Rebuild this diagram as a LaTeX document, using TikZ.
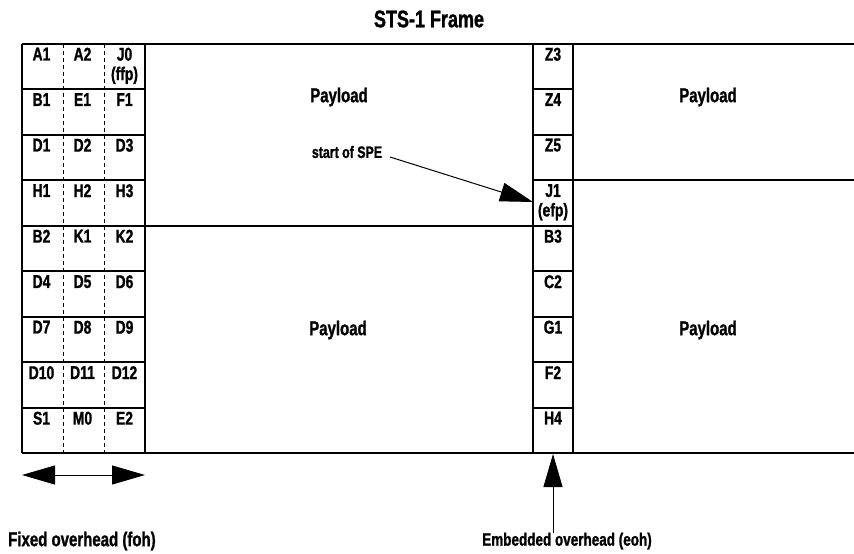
\documentclass[tikz,border=0pt]{standalone}
\usepackage{fontspec}
\newfontfamily\cf{Liberation Sans}[FakeStretch=0.75, FakeBold=1.2]
\usetikzlibrary{arrows.meta}
\tikzset{
  frame/.style={line width=2pt},
  dash line/.style={line width=0.9pt, dash pattern=on 4pt off 3pt},
  cell/.style={anchor=north, inner sep=0pt, align=center, font=\cf\bfseries\fontsize{18.5}{19.5}\selectfont},
  big/.style={inner sep=0pt, font=\cf\bfseries\fontsize{20}{22}\selectfont},
  ptr/.style={line width=1pt, -{Triangle[length=33pt,width=19pt]}},
  dptr/.style={line width=1pt, {Triangle[length=33pt,width=19pt]}-{Triangle[length=33pt,width=19pt]}}
}
\begin{document}
\begin{tikzpicture}[x=1pt,y=-1pt]
\useasboundingbox (0,0) rectangle (854,554);
% title
\node[big, font=\cf\bfseries\fontsize{24}{26}\selectfont] (title) at (429,19) {STS-1 Frame};
% horizontal frame lines
\draw[frame] (22,43.5) -- (854,43.5);
\draw[frame] (22,453) -- (854,453);
\draw[frame] (145,225.5) -- (533,225.5);
\draw[frame] (573,180) -- (854,180);
\foreach \y in {89,134.5,180,225.5,271,316.5,362,407.5} {
  \draw[frame] (22,\y) -- (145,\y);
  \draw[frame] (533,\y) -- (573,\y);
}
% verticals
\draw[frame] (22,43.5) -- (22,453);
\draw[frame] (145,43.5) -- (145,453);
\draw[frame] (533,43.5) -- (533,453);
\draw[frame] (573,43.5) -- (573,453);
\draw[dash line] (63,43.5) -- (63,453);
\draw[dash line] (104,43.5) -- (104,453);
% cell labels
\foreach \a/\b/\c/\r [count=\i] in {A1/A2/{J0\\(ffp)}/43.5, B1/E1/F1/89, D1/D2/D3/134.5, H1/H2/H3/180, B2/K1/K2/225.5, D4/D5/D6/271, D7/D8/D9/316.5, D10/D11/D12/362, S1/M0/E2/407.5} {
  \node[cell] (c1r\i) at (41.5,\r+4) {\a};
  \node[cell] (c2r\i) at (82.5,\r+4) {\b};
  \node[cell] (c3r\i) at (124.5,\r+4) {\c};
}
\foreach \t/\r [count=\i] in {Z3/43.5, Z4/89, Z5/134.5, {J1\\(efp)}/180, B3/225.5, C2/271, G1/316.5, F2/362, H4/407.5} {
  \node[cell] (e\i) at (553,\r+4) {\t};
}
% payload labels
\node[big] (p1) at (339,97) {Payload};
\node[big] (p2) at (708,97) {Payload};
\node[big] (p3) at (338,330) {Payload};
\node[big] (p4) at (708,330) {Payload};
% start of SPE
\node[big, font=\cf\bfseries\fontsize{16.5}{18}\selectfont] (spe) at (347,152) {start of SPE};
\coordinate (speA) at (390,157);
\coordinate (speB) at (533,202);
\draw[ptr] (speA) -- (speB);
% fixed overhead arrow
\coordinate (fohL) at (22,475);
\coordinate (fohR) at (145,475);
\draw[dptr] (fohL) -- (fohR);
\node[big, anchor=west] (foh) at (8,541) {Fixed overhead (foh)};
% embedded overhead arrow
\coordinate (eohB) at (553,533);
\coordinate (eohT) at (553,454);
\draw[ptr] (eohB) -- (eohT);
\node[big, font=\cf\bfseries\fontsize{18}{20}\selectfont] (eoh) at (567,541) {Embedded overhead (eoh)};
\end{tikzpicture}
\end{document}
